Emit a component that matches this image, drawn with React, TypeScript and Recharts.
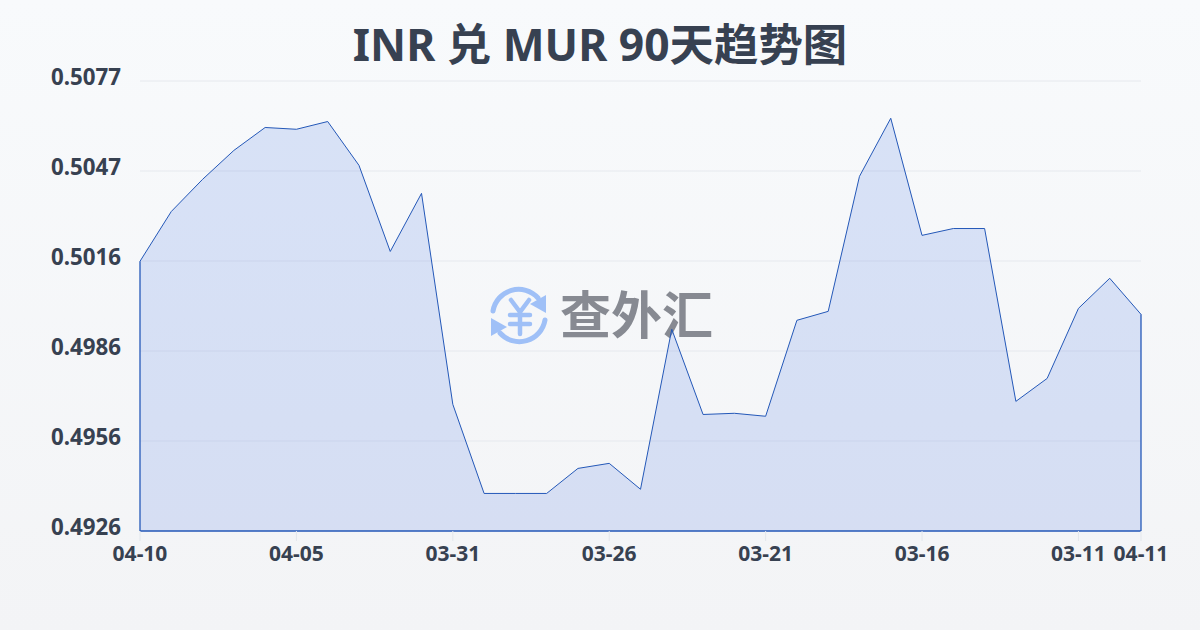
import React from "react";
import { AreaChart, Area, XAxis, YAxis, CartesianGrid, ReferenceLine } from "recharts";

const title = "INR 兑 MUR 90天趋势图";
const dates = [
  "04-10","04-09","04-08","04-07","04-06","04-05","04-04","04-03","04-02","04-01","03-31",
  "03-30","03-29","03-28","03-27","03-26","03-25","03-24","03-23","03-22","03-21",
  "03-20","03-19","03-18","03-17","03-16","03-15","03-14","03-13","03-12","03-11","03-10","04-11",
];
const rates = [
  0.50163,0.5033,0.50438,0.50535,0.50612,0.50606,0.50632,0.50485,0.50196,0.50391,0.49683,
  0.49384,0.49384,0.49384,0.49468,0.49485,0.49398,0.49935,0.49649,0.49653,0.49643,
  0.49965,0.49995,0.50448,0.50643,0.5025,0.50273,0.50273,0.49693,0.4977,0.50005,0.50106,0.49985,
];
const xTicks = ["04-10","04-05","03-31","03-26","03-21","03-16","03-11","04-11"];
const yTicks = [0.49258,0.4956,0.49862,0.50164,0.50466,0.50768];
const yDomain = [0.49258,0.50768];

const data = dates.map((date, i) => ({ date, rate: rates[i] }));
const ink = "#374151";
const line = "#2458b8";

export default function App() {
  return (
    <div style={{ position: "absolute", left: 0, top: 0, width: 1200, height: 630, overflow: "hidden",
      background: "linear-gradient(180deg,#f8fafc 0%,#f3f4f6 100%)",
      fontFamily: "'Noto Sans','Noto Sans CJK SC',sans-serif" }}>
      <div style={{ position: "absolute", left: 0, right: 0, top: 13, textAlign: "center", fontSize: 44.4,
        lineHeight: "62px", fontWeight: 700, color: ink }}>{title}</div>
      <svg style={{ position: "absolute", left: 488, top: 284 }} width="64" height="62" viewBox="0 0 64 62">
        <g fill="none" stroke="#9fc0f7" strokeWidth="5" strokeLinecap="round">
          <path d="M5 27 A26 26 0 0 1 50 14" />
          <path d="M57 36 A26 26 0 0 1 12 49" />
          <path d="M23 16 L32 28 L41 16 M22 31 H42 M22 40 H42 M32 28 V50" strokeWidth="4.5" />
        </g>
        <path d="M58 11 L58 29 L42 20 Z" fill="#9fc0f7" />
        <path d="M3 34 L3 52 L19 43 Z" fill="#9fc0f7" />
      </svg>
      <div style={{ position: "absolute", left: 560, top: 280, fontSize: 51, lineHeight: "68px", fontWeight: 700,
        color: "#878a92", whiteSpace: "nowrap" }}>查外汇</div>
      <div style={{ position: "absolute", left: 0, top: 1 }}>
        <AreaChart width={1200} height={630} data={data} margin={{ top: 80, right: 59, bottom: 0, left: 0 }}>
          <CartesianGrid horizontal vertical={false} stroke="#e6e9ee" strokeWidth={1} />
          <XAxis dataKey="date" ticks={xTicks} interval={0} axisLine={false} height={100}
            tickLine={{ stroke: "#e3e7ec" }} tickSize={10} tickMargin={5}
            tick={{ fill: ink, fontSize: 21, fontWeight: 700 }} />
          <YAxis width={140} type="number" domain={yDomain} ticks={yTicks} axisLine={false} tickLine={false}
            tickFormatter={(v: number) => v.toFixed(4)} tickSize={0} tickMargin={19}
            tick={{ fill: ink, fontSize: 22.3, fontWeight: 700, dy: -4 }} />
          <Area type="linear" dataKey="rate" baseValue={yDomain[0]} stroke={line} strokeWidth={1}
            fill="#3f6fe0" fillOpacity={0.17} isAnimationActive={false} dot={false} />
          <ReferenceLine stroke={line} strokeWidth={1.3} segment={[{ x: dates[0], y: yDomain[0] }, { x: dates[0], y: rates[0] }]} />
          <ReferenceLine stroke={line} strokeWidth={1.3} segment={[{ x: dates[32], y: yDomain[0] }, { x: dates[32], y: rates[32] }]} />
          <ReferenceLine y={yDomain[0]} stroke={line} strokeWidth={1.3} />
        </AreaChart>
      </div>
    </div>
  );
}
